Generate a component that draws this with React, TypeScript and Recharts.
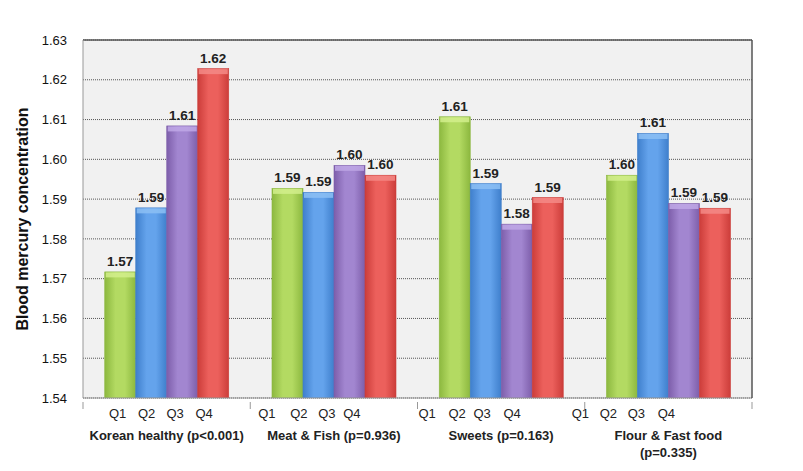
import { BarChart, Bar, XAxis, YAxis, CartesianGrid, LabelList, ReferenceLine } from 'recharts';

// diet pattern groups (p for trend)
const groupNames = [
  ['Korean healthy (p<0.001)'],
  ['Meat & Fish (p=0.936)'],
  ['Sweets (p=0.163)'],
  ['Flour & Fast food', '(p=0.335)'],
];
const quartiles = ['Q1', 'Q2', 'Q3', 'Q4'];

// blood mercury by quartile
const q1Values = [1.5717, 1.5927, 1.6107, 1.596];
const q2Values = [1.5878, 1.5917, 1.5939, 1.6065];
const q3Values = [1.6084, 1.5985, 1.5837, 1.5889];
const q4Values = [1.6228, 1.596, 1.5904, 1.5877];

const yTicks = [1.54, 1.55, 1.56, 1.57, 1.58, 1.59, 1.6, 1.61, 1.62, 1.63];

const data = groupNames.map((g, i) => ({
  group: g.join(' '),
  q1: q1Values[i],
  q2: q2Values[i],
  q3: q3Values[i],
  q4: q4Values[i],
}));

// the Q labels in the original are placed by hand, not under the bars
const qLabelOffsets = [
  [-49, -20, 8.5, 37.5],
  [-67, -35, -7, 18],
  [-74, -44, -19, 11],
  [-88, -60, -32, -2],
];

const colors = [
  { key: 'q1', dark: '#8cb83f', mid: '#b3da62', cap: '#d2ef8c' },
  { key: 'q2', dark: '#3f7fcc', mid: '#64a3ec', cap: '#8cc0f5' },
  { key: 'q3', dark: '#7d5eaa', mid: '#a286d0', cap: '#c0a8e6' },
  { key: 'q4', dark: '#cc3d3a', mid: '#ec605c', cap: '#f58a86' },
];

const FONT = '"Liberation Sans", Arial, sans-serif';
const CAT_W = (752 - 83) / 4;

function GroupTick(props: any) {
  const { x, y, index } = props;
  const lines = groupNames[index] || [];
  const offs = qLabelOffsets[index] || [];
  return (
    <g>
      <line x1={x + CAT_W / 2} x2={x + CAT_W / 2} y1={y - 4} y2={y + 3} stroke="#999" />
      {index === 0 && <line x1={x - CAT_W / 2} x2={x - CAT_W / 2} y1={y - 4} y2={y + 3} stroke="#999" />}
      {quartiles.map((q, i) => (
        <text key={q} x={x + offs[i]} y={y + 12} textAnchor="middle" fontSize={13} fill="#222" fontFamily={FONT}>
          {q}
        </text>
      ))}
      {lines.map((l, i) => (
        <text key={i} x={x} y={y + 34 + i * 17} textAnchor="middle" fontSize={13} fontWeight="bold" fill="#222" fontFamily={FONT}>
          {l}
        </text>
      ))}
    </g>
  );
}

function makeShape(ci: number) {
  return (props: any) => {
    const { x, y, width, height } = props;
    if (!height || height <= 0) return null;
    const c = colors[ci];
    const cap = Math.min(5, height);
    return (
      <g>
        <rect x={x} y={y} width={width} height={height} fill={`url(#bar-${ci})`} stroke={c.dark} strokeWidth={0.6} />
        <rect x={x + 1} y={y + 0.5} width={width - 2} height={cap} fill={c.cap} opacity={0.85} />
      </g>
    );
  };
}

export default function App() {
  return (
    <div style={{ position: 'absolute', left: 0, top: 0, width: 803, height: 471, background: '#fff' }}>
      <BarChart
        width={803}
        height={471}
        data={data}
        margin={{ top: 40, right: 50, bottom: 13, left: 0 }}
        barCategoryGap="13%"
        barGap={0}
      >
        <defs>
          {colors.map((c, i) => (
            <linearGradient key={c.key} id={`bar-${i}`} x1="0" y1="0" x2="1" y2="0">
              <stop offset="0%" stopColor={c.dark} />
              <stop offset="35%" stopColor={c.mid} />
              <stop offset="65%" stopColor={c.mid} />
              <stop offset="100%" stopColor={c.dark} />
            </linearGradient>
          ))}
        </defs>
        <CartesianGrid
          yAxisId="left"
          vertical={false}
          fill="#f1f1f1"
          stroke="#555"
          strokeDasharray="1 1"
        />
        <XAxis
          dataKey="group"
          height={60}
          tickLine={false}
          axisLine={{ stroke: '#999' }}
          tick={<GroupTick />}
          interval={0}
        />
        <YAxis
          yAxisId="left"
          width={83}
          domain={[1.54, 1.63]}
          ticks={yTicks}
          allowDataOverflow
          tickLine={false}
          axisLine={{ stroke: '#999' }}
          tickMargin={10}
          tickFormatter={(v: number) => v.toFixed(2)}
          tick={{ fontSize: 13, fill: '#111', fontFamily: FONT }}
          label={{
            value: 'Blood mercury concentration',
            angle: -90,
            position: 'insideLeft',
            offset: 22,
            style: { textAnchor: 'middle', fontSize: 16, fontWeight: 'bold', fill: '#111', fontFamily: FONT },
          }}
        />
        <YAxis
          yAxisId="right"
          orientation="right"
          width={1}
          domain={[1.54, 1.63]}
          tick={false}
          tickLine={false}
          axisLine={{ stroke: '#555', strokeWidth: 1.5 }}
        />
        <ReferenceLine yAxisId="left" y={1.63} stroke="#555" strokeWidth={1.5} />
        {colors.map((c, i) => (
          <Bar key={c.key} yAxisId="left" dataKey={c.key} isAnimationActive={false} shape={makeShape(i)}>
            <LabelList
              dataKey={c.key}
              position="top"
              offset={6}
              formatter={(v: any) => Number(v).toFixed(2)}
              style={{ fontSize: 13.5, fontWeight: 'bold', fill: '#222', fontFamily: FONT }}
            />
          </Bar>
        ))}
      </BarChart>
    </div>
  );
}
